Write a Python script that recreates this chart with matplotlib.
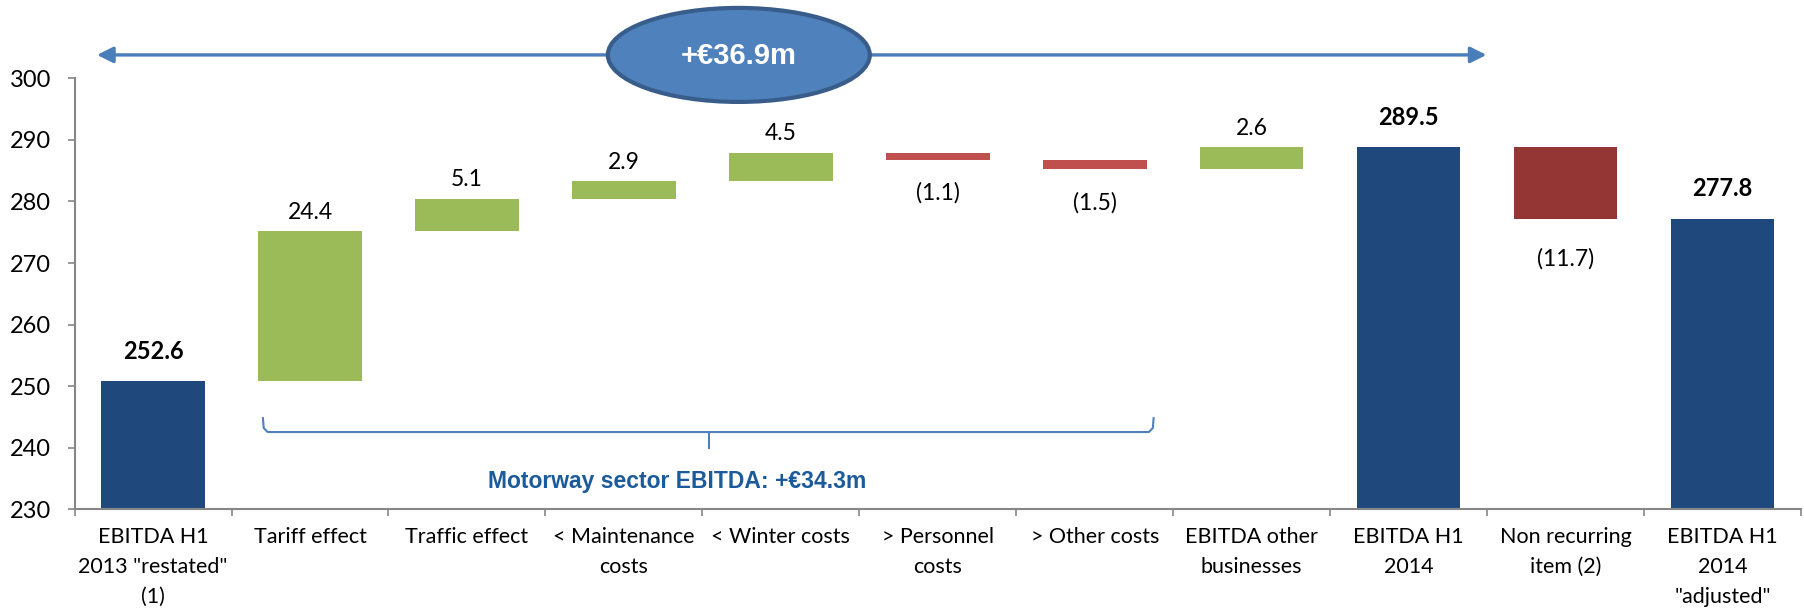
# EBITDA bridge H1 2013 -> H1 2014 (waterfall)

import matplotlib.pyplot as plt
from matplotlib.patches import Ellipse
import numpy as np

plt.rcParams['font.family'] = ['Lato', 'DejaVu Sans']

categories = [
    'EBITDA H1\n2013 "restated"\n(1)',
    'Tariff effect',
    'Traffic effect',
    '< Maintenance\ncosts',
    '< Winter costs',
    '> Personnel\ncosts',
    '> Other costs',
    'EBITDA other\nbusinesses',
    'EBITDA H1\n2014',
    'Non recurring\nitem (2)',
    'EBITDA H1\n2014\n"adjusted"',
]

# bar sizes as drawn in the picture; None = running total bar
bar_steps = [250.8, 24.4, 5.2, 2.9, 4.6, -1.2, -1.5, 3.6, None, -11.6, None]
is_total = [True, False, False, False, False, False, False, False, True, False, True]

value_labels = ['252.6', '24.4', '5.1', '2.9', '4.5', '(1.1)', '(1.5)', '2.6',
                '289.5', '(11.7)', '277.8']

total_change = '+€36.9m'
sector_change = 'Motorway sector EBITDA: +€34.3m'

NAVY = '#1F497D'
GREEN = '#9BBB59'
RED = '#C0504D'
DARK_RED = '#943634'
GREY = '#868686'

fig = plt.figure(figsize=(18.04, 6.09), dpi=100)
ax = fig.add_axes([0.04135, 0.1637, 0.957, 0.7077])

running = 0
for i, step in enumerate(bar_steps):
    if is_total[i]:
        if step is not None:
            running = step
        ax.bar(i, running, width=0.66, color=NAVY)
        ax.annotate(value_labels[i], (i, running), xytext=(0, 30),
                    textcoords='offset pixels', ha='center', va='center',
                    fontsize=17, fontweight='bold')
    else:
        bottom = running + min(step, 0)
        if step >= 0:
            color = GREEN
        elif i == 9:
            color = DARK_RED
        else:
            color = RED
        ax.bar(i, abs(step), bottom=bottom, width=0.66, color=color)
        if step >= 0:
            ax.annotate(value_labels[i], (i, running + step), xytext=(0, 19),
                        textcoords='offset pixels', ha='center', va='center',
                        fontsize=16.5)
        else:
            dy = -40 if i == 9 else -33
            ax.annotate(value_labels[i], (i, bottom), xytext=(0, dy),
                        textcoords='offset pixels', ha='center', va='center',
                        fontsize=16.5)
        running += step

# axes
ax.set_xlim(-0.5, len(categories) - 0.5)
ax.set_ylim(230, 300)
ax.set_yticks(np.arange(230, 301, 10))
ax.tick_params(axis='y', length=5, width=1.2, color=GREY, pad=12, labelsize=17)

ax.set_xticks(np.arange(-0.5, len(categories), 1))
ax.set_xticklabels([])
ax.set_xticks(range(len(categories)), minor=True)
ax.set_xticklabels(categories, minor=True, fontsize=15.5, linespacing=1.62)
ax.tick_params(axis='x', which='major', length=5, width=1.2, color=GREY)
ax.tick_params(axis='x', which='minor', length=0, pad=13)

for side in ['top', 'right']:
    ax.spines[side].set_visible(False)
for side in ['left', 'bottom']:
    ax.spines[side].set_color(GREY)
    ax.spines[side].set_linewidth(1.5)

# double arrow with the ellipse on top
ax.annotate('', xy=(-0.357, 303.8), xytext=(8.496, 303.8),
            arrowprops=dict(arrowstyle='<|-|>', color='#4A7EBB', lw=2.4,
                            mutation_scale=24, shrinkA=0, shrinkB=0),
            annotation_clip=False)
ell = Ellipse((3.732, 303.8), width=1.669, height=15.27, facecolor='#4F81BD',
              edgecolor='#385D8A', lw=3, clip_on=False, zorder=5)
ax.add_patch(ell)
ax.text(3.732, 303.6, total_change, ha='center', va='center', color='white',
        fontsize=21, fontweight='bold', family=['Liberation Sans', 'DejaVu Sans'],
        zorder=6)

# bracket under the motorway items
ax.plot([0.70, 0.705, 0.73, 6.345, 6.37, 6.375],
        [244.8, 243.2, 242.55, 242.55, 243.2, 244.8],
        color='#4F81BD', lw=1.5, clip_on=False)
ax.plot([3.54, 3.54], [242.55, 239.95], color='#4F81BD', lw=1.5, clip_on=False)
ax.text(3.34, 234.5, sector_change, ha='center', va='center', color='#1B5B9B',
        fontsize=16.5, fontweight='bold', family=['Liberation Sans', 'DejaVu Sans'])

fig.savefig('out.png', dpi=100)
